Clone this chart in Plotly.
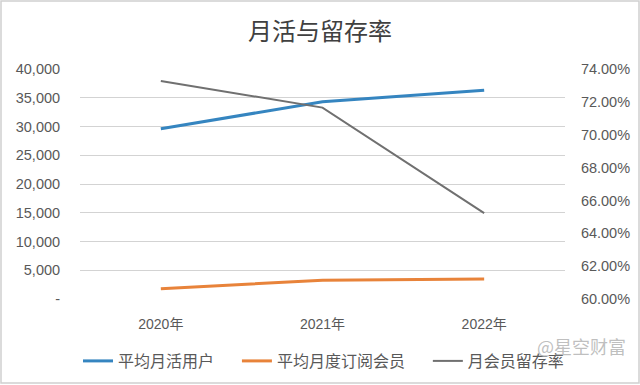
import plotly.graph_objects as go

years = ["2020年", "2021年", "2022年"]
mau = [29600, 34300, 36300]          # 平均月活用户
subs = [1800, 3250, 3500]            # 平均月度订阅会员
retention = [0.7327, 0.7165, 0.6523] # 月会员留存率

left_ticks = [0, 5000, 10000, 15000, 20000, 25000, 30000, 35000, 40000]
left_text = ["-", "5,000", "10,000", "15,000", "20,000", "25,000", "30,000", "35,000", "40,000"]

FONT = "Liberation Sans, Arial, Noto Sans CJK SC, sans-serif"
TXT = "#595959"
PAD = "\u00a0" * 5
CLEAR = "rgba(0,0,0,0)"

fig = go.Figure()
fig.add_trace(go.Scatter(x=years, y=mau, name="平均月活用户" + PAD, mode="lines",
                         line=dict(color="#3585C0", width=3)))
fig.add_trace(go.Scatter(x=years, y=subs, name="平均月度订阅会员" + PAD, mode="lines",
                         line=dict(color="#E8833A", width=3)))
fig.add_trace(go.Scatter(x=years, y=retention, name="月会员留存率", mode="lines",
                         line=dict(color="#707070", width=2), yaxis="y2"))

W, H = 640, 385
L, R, T, B = 80, 75, 69, 86
pw, ph = W - L - R, H - T - B

fig.update_layout(
    template="none",
    width=W, height=H,
    margin=dict(l=L, r=R, t=T, b=B, autoexpand=False),
    paper_bgcolor="white", plot_bgcolor="white",
    font=dict(family=FONT, size=14, color=TXT),
    title=dict(text="月活与留存率", x=0.5, xanchor="center", y=1 - 32 / H, yanchor="middle",
               font=dict(family="Noto Sans CJK SC, sans-serif", size=24, color="#404040")),
    xaxis=dict(type="category", range=[-0.5, 2.5], showgrid=False, showline=False,
               zeroline=False, ticks="outside", ticklen=12, tickcolor=CLEAR,
               tickfont=dict(size=14, color=TXT)),
    yaxis=dict(range=[0, 40000], tickvals=left_ticks, ticktext=left_text,
               showgrid=True, gridcolor="#D3D3D3", gridwidth=1, zeroline=False,
               showline=False, ticks="outside", ticklen=16, tickcolor=CLEAR,
               tickfont=dict(size=14.5, color=TXT)),
    yaxis2=dict(range=[0.60, 0.74], dtick=0.02, tick0=0.60, tickformat=".2%",
                overlaying="y", side="right", showgrid=False, zeroline=False,
                showline=False, ticks="outside", ticklen=12, tickcolor=CLEAR,
                tickfont=dict(size=14.5, color=TXT)),
    legend=dict(orientation="h", x=(78 - L) / pw, xanchor="left",
                y=(ph - (361 - T)) / ph, yanchor="middle",
                font=dict(family="Noto Sans CJK SC, sans-serif", size=16, color=TXT),
                bgcolor=CLEAR),
    showlegend=True,
)

# chart border
fig.add_shape(type="rect", xref="paper", yref="paper",
              x0=(1 - L) / pw, x1=(W - 1 - L) / pw,
              y0=(ph - (383 - T)) / ph, y1=(ph - (1 - T)) / ph,
              line=dict(color="#D0D0D0", width=1.5), fillcolor=CLEAR, layer="above")

# watermark
fig.add_annotation(text="@星空财富", xref="paper", yref="paper",
                   x=(628 - L) / pw, xanchor="right", y=(ph - (361 - T)) / ph,
                   showarrow=False,
                   font=dict(family="Noto Sans CJK SC, sans-serif", size=18,
                             color="rgba(170,170,170,0.75)"))

fig.write_html("out.html", config={"displayModeBar": False},
               post_script="document.body.style.margin='0';document.body.style.padding='0';")
